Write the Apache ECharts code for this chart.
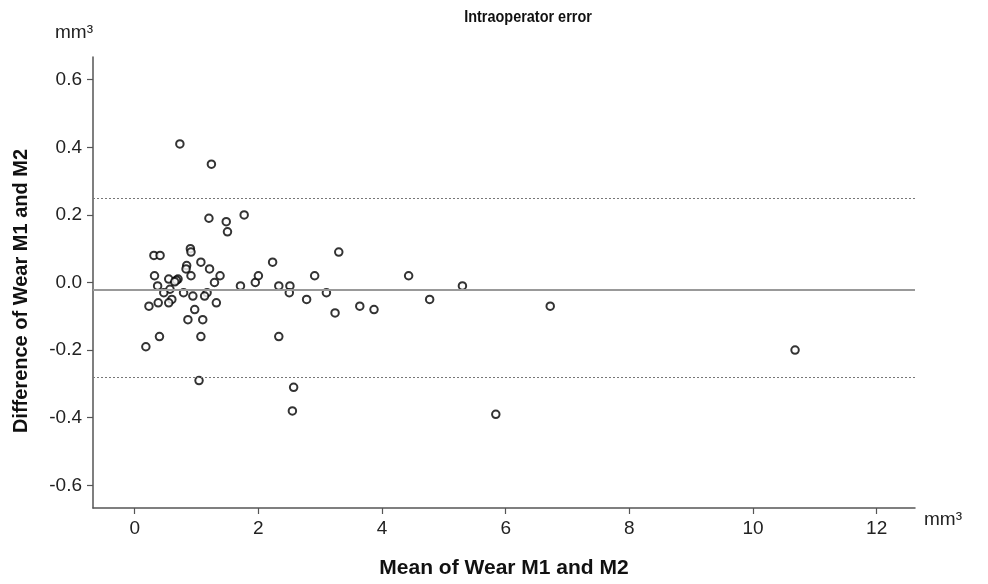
<!DOCTYPE html>
<html>
<head>
<meta charset="utf-8">
<script src="https://cdn.jsdelivr.net/npm/echarts@6/dist/echarts.min.js"></script>
<style>html,body{margin:0;padding:0;background:#fff;}#chart{width:988px;height:584px;}</style>
</head>
<body>
<div id="chart"></div>
<script>
// Bland-Altman data: mean of wear (x) and difference (y)
var meanWear = [0.73,1.24,1.20,1.48,1.50,1.77,0.90,0.91,0.31,0.41,1.07,0.84,0.83,1.21,0.32,0.91,1.38,0.55,0.70,0.675,0.647,1.29,0.37,0.57,1.71,1.95,2.00,0.47,0.79,1.17,1.13,0.94,0.60,0.55,0.38,0.23,1.32,0.97,0.86,1.10,0.40,1.07,0.18,1.04,2.23,2.91,3.30,2.33,2.51,2.50,2.78,3.10,3.24,3.64,2.33,2.57,2.55,3.87,4.43,4.77,5.30,6.72,5.84,10.68];
var diffWear = [0.41,0.35,0.19,0.18,0.15,0.20,0.10,0.09,0.08,0.08,0.06,0.05,0.04,0.04,0.02,0.02,0.02,0.01,0.01,0.007,0.002,0.00,-0.01,-0.02,-0.01,0.00,0.02,-0.03,-0.03,-0.03,-0.04,-0.04,-0.05,-0.06,-0.06,-0.07,-0.06,-0.08,-0.11,-0.11,-0.16,-0.16,-0.19,-0.29,0.06,0.02,0.09,-0.01,-0.01,-0.03,-0.05,-0.03,-0.09,-0.07,-0.16,-0.31,-0.38,-0.08,0.02,-0.05,-0.01,-0.07,-0.39,-0.20];
var meanDiff = -0.02;
var upperLimit = 0.25;
var lowerLimit = -0.28;
var xTicks = [0,2,4,6,8,10,12];
var yTicks = [-0.6,-0.4,-0.2,0.0,0.2,0.4,0.6];
var titleText = 'Intraoperator error';
var xName = 'Mean of Wear M1 and M2';
var yName = 'Difference of Wear M1 and M2';
var unitText = 'mm³';

var points = meanWear.map(function(v,i){return [v, diffWear[i]];});
var chart = echarts.init(document.getElementById('chart'));
var axisColor = '#555';
chart.setOption({
  animation:false,
  backgroundColor:'#fff',
  grid:{left:93,right:73,top:57,bottom:76},
  xAxis:{
    type:'value', min:-0.675, max:12.62,
    name:xName, nameLocation:'middle', nameGap:50,
    nameTextStyle:{fontFamily:'Liberation Sans, Arial',fontWeight:'bold',fontSize:21,color:'#111'},
    axisLine:{show:true,onZero:false,lineStyle:{color:axisColor,width:1.5}},
    axisTick:{show:true,length:6,customValues:xTicks,lineStyle:{color:axisColor,width:1.2}},
    axisLabel:{customValues:xTicks,margin:11,fontSize:19,color:'#222',fontFamily:'Liberation Sans, Arial',formatter:function(v){return String(v);}},
    splitLine:{show:false}
  },
  yAxis:{
    type:'value', min:-0.667, max:0.667,
    name:'', 
    axisLine:{show:true,onZero:false,lineStyle:{color:axisColor,width:1.5}},
    axisTick:{show:true,length:6,customValues:yTicks,lineStyle:{color:axisColor,width:1.2}},
    axisLabel:{customValues:yTicks,margin:11,fontSize:19,color:'#222',fontFamily:'Liberation Sans, Arial',formatter:function(v){return v.toFixed(1);}},
    splitLine:{show:false}
  },
  graphic:[
    {type:'text',x:528,y:9,scaleX:0.85,style:{text:titleText,align:'center',verticalAlign:'top',font:'bold 17px "Liberation Sans", Arial',fill:'#111'}},
    {type:'text',x:21,y:291,rotation:Math.PI/2,style:{text:yName,align:'center',verticalAlign:'middle',font:'bold 20px "Liberation Sans", Arial',fill:'#111'}},
    {type:'text',x:55,y:23,style:{text:unitText,verticalAlign:'top',font:'19px "Liberation Sans", Arial',fill:'#222'}},
    {type:'text',x:924,y:510,style:{text:unitText,verticalAlign:'top',font:'19px "Liberation Sans", Arial',fill:'#222'}}
  ],
  series:[{
    type:'scatter',
    data:points,
    symbol:'circle',
    symbolSize:7.5,
    itemStyle:{color:'#fff',borderColor:'#000',borderWidth:2},
    markLine:{
      silent:true,
      symbol:'none',
      label:{show:false},
      data:[
        {yAxis:meanDiff,lineStyle:{color:'#999',width:2,type:'solid'}},
        {yAxis:upperLimit,lineStyle:{color:'#777',width:1.2,type:[2,2]}},
        {yAxis:lowerLimit,lineStyle:{color:'#777',width:1.2,type:[2,2]}}
      ]
    },
    z:3
  }]
});
</script>
</body>
</html>
